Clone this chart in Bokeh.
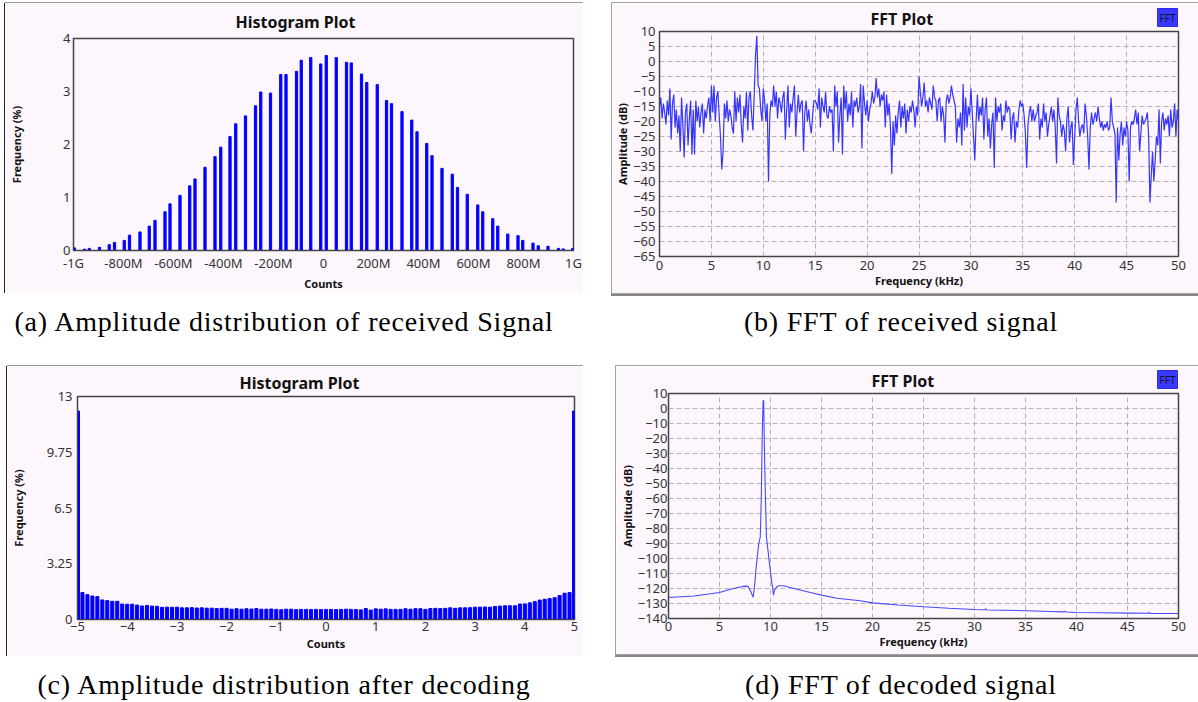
from bokeh.plotting import figure
from bokeh.models import FixedTicker, Label, Div, Spacer
from bokeh.layouts import row, column
from bokeh.embed import file_html
from bokeh.resources import INLINE

# ---------------- data ----------------
# (a) amplitude histogram of received signal (x in M counts, y in %)
hist_a_x = [-997, -956, -937, -896, -857, -836, -797, -776, -734, -697, -674, -634, -614,
            -574, -535, -514, -474, -434, -411, -374, -351, -312, -272, -251, -212, -171,
            -150, -108, -89, -51, -11, 11, 51, 92, 111, 152, 173, 215, 252, 272, 314, 353,
            374, 413, 434, 474, 515, 536, 575, 617, 637, 677, 697, 737, 778, 797, 838, 859,
            898, 940, 959, 997]
hist_a_freq = [0.05, 0.025, 0.04, 0.06, 0.11, 0.15, 0.19, 0.29, 0.35, 0.46, 0.57, 0.73, 0.88,
               1.04, 1.22, 1.35, 1.57, 1.77, 1.95, 2.15, 2.39, 2.54, 2.73, 2.99, 2.97, 3.32,
               3.32, 3.38, 3.59, 3.64, 3.52, 3.68, 3.64, 3.55, 3.54, 3.33, 3.17, 3.13, 2.83,
               2.77, 2.62, 2.46, 2.24, 2.02, 1.79, 1.55, 1.44, 1.19, 1.06, 0.86, 0.73, 0.60,
               0.46, 0.31, 0.28, 0.19, 0.14, 0.09, 0.08, 0.04, 0.03, 0.04]
hist_a_ticks = [-1000, -800, -600, -400, -200, 0, 200, 400, 600, 800, 1000]
hist_a_labels = ["-1G", "-800M", "-600M", "-400M", "-200M", "0", "200M", "400M", "600M", "800M", "1G"]

# (b) FFT of received signal, dB, one value every 0.125 kHz from 0 to 50 kHz
fft_b_step_khz = 0.125
fft_b_db = [
    -15, -12, -19, -14, -17, -21, -13, -18,
    -9, -26, -14, -11, -22, -16, -24, -18,
    -30, -12, -21, -32, -17, -14, -28, -19,
    -13, -31, -16, -31, -13, -20, -15, -22,
    -17, -14, -24, -16, -19, -15, -12, -20,
    -8, -17, -8, -20, -12, -10, -18, -25,
    -36, -30, -14, -19, -13, -20, -16, -18,
    -22, -24, -10, -20, -12, -17, -11, -21,
    -27, -15, -19, -10, -23, -12, -10, -18,
    -23, -11, 2, 8.5, -8, -9, -16, -20,
    -9, -13, -20, -14, -40, -18, -13, -15,
    -8, -15, -10, -19, -12, -14, -17, -12,
    -10, -26, -16, -8, -22, -14, -17, -12,
    -8, -25, -17, -11, -17, -14, -13, -30,
    -17, -13, -20, -16, -21, -24, -18, -13,
    -13, -14, -16, -9, -22, -12, -15, -17,
    -10, -18, -19, -15, -17, -16, -30, -8,
    -15, -10, -27, -18, -12, -31, -8, -16,
    -10, -20, -14, -18, -10, -22, -13, -15,
    -12, -17, -15, -7.5, -29, -8, -14, -18,
    -13, -20, -16, -14, -10, -14, -12, -5.5,
    -12, -9, -15, -11, -13, -10, -22, -11,
    -18, -14, -22, -37.5, -20, -28, -18, -24,
    -17, -13, -22, -15, -19, -14, -24, -16,
    -20, -15, -17, -13, -16, -22, -15, -18,
    -5, -10, -15, -12, -7, -15, -13, -17,
    -12, -14, -16, -8, -12, -13, -20, -13,
    -12, -20, -15, -18, -27, -13, -11, -14,
    -12, -8, -11, -13, -15, -27, -19, -22,
    -17, -28, -7.5, -23, -12, -22, -15, -18,
    -9, -17, -25, -33, -20, -11, -20, -15,
    -18, -12, -26, -16, -12, -25, -19, -29,
    -21, -17, -35.5, -12, -20, -15, -17, -14,
    -23, -18, -20, -13, -17, -15, -16, -26,
    -19, -17, -27, -20, -22, -16, -13, -15,
    -14, -18, -24, -35.5, -21, -17, -15, -20,
    -16, -20, -18, -17, -14, -26, -19, -22,
    -14, -20, -17, -25, -21, -18, -15, -20,
    -16, -22, -34, -12, -18, -20, -25, -21,
    -23, -30, -19, -15, -27, -22, -20, -34.5,
    -25, -16, -12, -20, -25, -22, -21, -24,
    -14, -18, -25, -36, -22, -17, -21, -19,
    -17, -20, -15, -19, -22, -20, -23, -21,
    -22, -20, -23, -22, -12, -20, -22, -24,
    -47, -22, -33, -24, -20, -28, -22, -25,
    -20, -23, -40, -22, -20, -21, -19, -16,
    -21, -17, -30, -24, -18, -21, -20, -19,
    -17, -25, -47, -38, -30, -40, -33, -25,
    -28, -16, -34, -20, -17, -23, -19, -21,
    -18, -25, -16, -22, -20, -14, -25, -16,
    -20,
]
fft_b_khz = [i * fft_b_step_khz for i in range(len(fft_b_db))]

# (c) amplitude histogram after decoding: bins every 0.1 from -4.9 to 4.9 plus the two end bins
hist_c_step = 0.1
hist_c_freq = [
    1.57, 1.45, 1.37, 1.33, 1.14, 1.10, 1.06, 1.06, 0.90, 0.89,
    0.89, 0.84, 0.79, 0.82, 0.78, 0.77, 0.71, 0.72, 0.71, 0.72,
    0.68, 0.68, 0.69, 0.67, 0.68, 0.66, 0.66, 0.64, 0.65, 0.65,
    0.60, 0.63, 0.60, 0.63, 0.61, 0.64, 0.60, 0.60, 0.61, 0.59,
    0.57, 0.60, 0.60, 0.58, 0.59, 0.59, 0.58, 0.59, 0.58,
    0.59,
    0.59, 0.58, 0.59, 0.60, 0.59, 0.58, 0.56, 0.64, 0.55, 0.62,
    0.60, 0.62, 0.59, 0.59, 0.59, 0.63, 0.60, 0.63, 0.63, 0.59,
    0.64, 0.65, 0.64, 0.65, 0.68, 0.65, 0.68, 0.68, 0.69, 0.72,
    0.72, 0.73, 0.72, 0.76, 0.78, 0.80, 0.80, 0.80, 0.90, 0.91,
    0.97, 1.04, 1.13, 1.18, 1.22, 1.27, 1.40, 1.53, 1.57,
]
hist_c_x = [round(-4.9 + i * hist_c_step, 1) for i in range(len(hist_c_freq))]
hist_c_end_x = [-4.98, 4.98]
hist_c_end_freq = [12.15, 12.15]
hist_c_yticks = [0, 3.25, 6.5, 9.75, 13]

# (d) FFT of decoded signal
fft_d_khz = [0, 2.5, 5, 6, 7, 7.5, 7.8, 8.05, 8.3, 8.43, 8.6, 8.85, 9.0, 9.1, 9.2, 9.27, 9.33,
             9.4, 9.5, 9.6, 9.9, 10.1, 10.3, 10.4, 10.6, 10.8, 11.3, 12.0, 12.9, 14.0, 15.0,
             16.5, 18.8, 20.0, 22.5, 25.0, 27.5, 30.0, 31.0, 31.1, 31.2, 33.0, 35.0, 37.5,
             38.8, 38.9, 39.0, 40.0, 42.5, 45.0, 47.0, 47.1, 47.2, 50.0]
fft_d_db = [-126.0, -125.0, -122.7, -120.7, -119.0, -118.4, -118.6, -121.8, -125.8, -119.0,
            -105.5, -90.0, -85.5, -59.0, -14.4, 4.5, 5.6, -25.5, -59.0, -85.5, -103.3, -114.4,
            -124.4, -121.0, -119.0, -118.2, -118.2, -119.5, -121.0, -122.8, -124.4, -126.5,
            -128.2, -129.6, -131.0, -132.2, -133.2, -134.0, -134.2, -133.6, -134.3, -134.5,
            -134.8, -135.3, -135.6, -135.1, -135.7, -136.0, -136.2, -136.4, -136.5, -136.0,
            -136.6, -136.7]

titles = ["Histogram Plot", "FFT Plot", "Histogram Plot", "FFT Plot"]
captions = ["(a) Amplitude distribution of received Signal", "(b) FFT of received signal",
            "(c) Amplitude distribution after decoding", "(d) FFT of decoded signal"]

# ---------------- style ----------------
PINK = "#fdf6fd"
FONT = "Noto Sans"
SERIF = "Liberation Serif"
BAR = "#0000ff"
LINE = "#3535ff"


def make_fig(w, h, xr, yr, ml, mr, mt, mb, frame_style):
    p = figure(width=w, height=h, x_range=xr, y_range=yr, title=None,
               output_backend="svg", toolbar_location=None,
               min_border_left=ml, min_border_right=mr, min_border_top=mt, min_border_bottom=mb,
               styles=frame_style, frame_align=False)
    p.border_fill_color = PINK
    p.background_fill_color = PINK
    p.outline_line_color = "#444444"
    p.outline_line_width = 1.5
    for ax in (p.xaxis[0], p.yaxis[0]):
        ax.major_tick_line_color = None
        ax.minor_tick_line_color = None
        ax.major_tick_out = 0
        ax.major_tick_in = 0
        ax.minor_tick_out = 0
        ax.minor_tick_in = 0
        ax.axis_line_color = "#444444"
        ax.major_label_text_font = FONT
        ax.major_label_text_font_size = "13px"
        ax.major_label_text_color = "#333333"
        ax.axis_label_text_font = FONT
        ax.axis_label_text_font_size = "11px"
        ax.axis_label_text_font_style = "bold"
        ax.axis_label_text_color = "#111111"
    return p


def add_title(p, text, x, y, dx, dy):
    p.add_layout(Label(x=x, y=y, x_offset=dx, y_offset=dy, text=text, text_align="left",
                       text_baseline="middle", text_font=FONT, text_font_size="16px",
                       text_font_style="bold", text_color="#111111"), "above")


def legend_box(p, x, y):
    p.add_layout(Label(x=x, y=y, x_offset=-1, y_offset=5, text="FFT",
                       text_align="right", text_baseline="bottom", text_font=FONT,
                       text_font_size="10px", text_color="#101030", padding=2,
                       background_fill_color="#3a3aff", border_line_color="#2a2aee"), "right")


frame_left = {"box-shadow": "-1px 0 0 0 #222222, 0 -1px 0 0 #999999"}
frame_box = {"box-shadow": "0 0 0 1px #a0a0a0, 0 2px 0 1px #888888"}

# ---- (a)
pa = make_fig(578, 290, (-1000, 1000), (0, 4), 68, 10, 35, 43, frame_left)
pa.vbar(x=hist_a_x, top=hist_a_freq, width=9, bottom=0, color=BAR)
pa.xaxis.ticker = FixedTicker(ticks=hist_a_ticks)
pa.xaxis.major_label_overrides = {t: l for t, l in zip(hist_a_ticks, hist_a_labels)}
pa.yaxis.ticker = FixedTicker(ticks=[0, 1, 2, 3, 4])
pa.xaxis.axis_label = "Counts"
pa.yaxis.axis_label = "Frequency (%)"
pa.xaxis.major_label_standoff = 3
pa.xaxis.axis_label_standoff = 1
pa.yaxis.major_label_standoff = 3
pa.yaxis.axis_label_standoff = 36
pa.xgrid.visible = False
pa.ygrid.visible = False
add_title(pa, titles[0], -1000, 4, 162, 17)

# ---- (b)
pb = make_fig(586, 290, (0, 50), (-65, 10), 47, 17, 28, 37, frame_box)
pb.line(fft_b_khz, fft_b_db, line_color=LINE, line_width=1.2)
pb.xaxis.ticker = FixedTicker(ticks=list(range(0, 51, 5)))
pb.yaxis.ticker = FixedTicker(ticks=list(range(-65, 11, 5)))
pb.xaxis.axis_label = "Frequency (kHz)"
pb.yaxis.axis_label = "Amplitude (dB)"
pb.xaxis.major_label_standoff = 4
pb.xaxis.axis_label_standoff = 0
pb.yaxis.major_label_standoff = 4
pb.yaxis.axis_label_standoff = 0
for g in (pb.xgrid[0], pb.ygrid[0]):
    g.grid_line_color = "#b4b4b4"
    g.grid_line_dash = "5 3"
    g.grid_line_width = 1
add_title(pb, titles[1], 0, 10, 211, 13)
legend_box(pb, 50, 10)

# ---- (c)
pc = make_fig(576, 290, (-5, 5), (0, 13), 68, 9, 30, 37, frame_left)
pc.vbar(x=hist_c_x, top=hist_c_freq, width=0.062, bottom=0, color=BAR)
pc.vbar(x=hist_c_end_x, top=hist_c_end_freq, width=0.04, bottom=0, color=BAR)
pc.xaxis.ticker = FixedTicker(ticks=list(range(-5, 6)))
pc.yaxis.ticker = FixedTicker(ticks=hist_c_yticks)
pc.yaxis.major_label_overrides = {0: "0", 3.25: "3.25", 6.5: "6.5", 9.75: "9.75", 13: "13"}
pc.xaxis.axis_label = "Counts"
pc.yaxis.axis_label = "Frequency (%)"
pc.xaxis.major_label_standoff = 2
pc.xaxis.axis_label_standoff = 2
pc.yaxis.major_label_standoff = 5
pc.yaxis.axis_label_standoff = 18
pc.xgrid.visible = False
pc.ygrid.visible = False
add_title(pc, titles[2], -5, 13, 162, 14)

# ---- (d)
pd_ = make_fig(582, 288, (0, 50), (-140, 10), 52, 20, 27, 36, frame_box)
pd_.line(fft_d_khz, fft_d_db, line_color="#4848ff", line_width=1.1)
pd_.xaxis.ticker = FixedTicker(ticks=list(range(0, 51, 5)))
pd_.yaxis.ticker = FixedTicker(ticks=list(range(-140, 11, 10)))
pd_.xaxis.axis_label = "Frequency (kHz)"
pd_.yaxis.axis_label = "Amplitude (dB)"
pd_.xaxis.major_label_standoff = 3
pd_.xaxis.axis_label_standoff = 0
pd_.yaxis.major_label_standoff = 1
pd_.yaxis.axis_label_standoff = 0
for g in (pd_.xgrid[0], pd_.ygrid[0]):
    g.grid_line_color = "#b4b4b4"
    g.grid_line_dash = "5 3"
    g.grid_line_width = 1
add_title(pd_, titles[3], 0, 10, 203, 13)
legend_box(pd_, 50, 10)


def cap(text, w):
    return Div(text=text, width=w, height=32, margin=0,
               styles={"font-family": SERIF, "font-size": "28px", "text-align": "center",
                       "color": "#000000", "line-height": "32px", "white-space": "nowrap",
                       "letter-spacing": "0.8px"})


layout = column(
    Spacer(width=1198, height=3),
    row(Spacer(width=5, height=290), pa, Spacer(width=29, height=290), pb),
    Spacer(width=1198, height=13),
    row(cap(captions[0], 568), Spacer(width=36, height=32), cap(captions[1], 594)),
    Spacer(width=1198, height=28),
    row(Spacer(width=7, height=290), pc, Spacer(width=33, height=290), pd_),
    Spacer(width=1198, height=13),
    row(cap(captions[2], 568), Spacer(width=36, height=32), cap(captions[3], 594)),
)

open("out.html", "w").write(file_html(layout, INLINE))
